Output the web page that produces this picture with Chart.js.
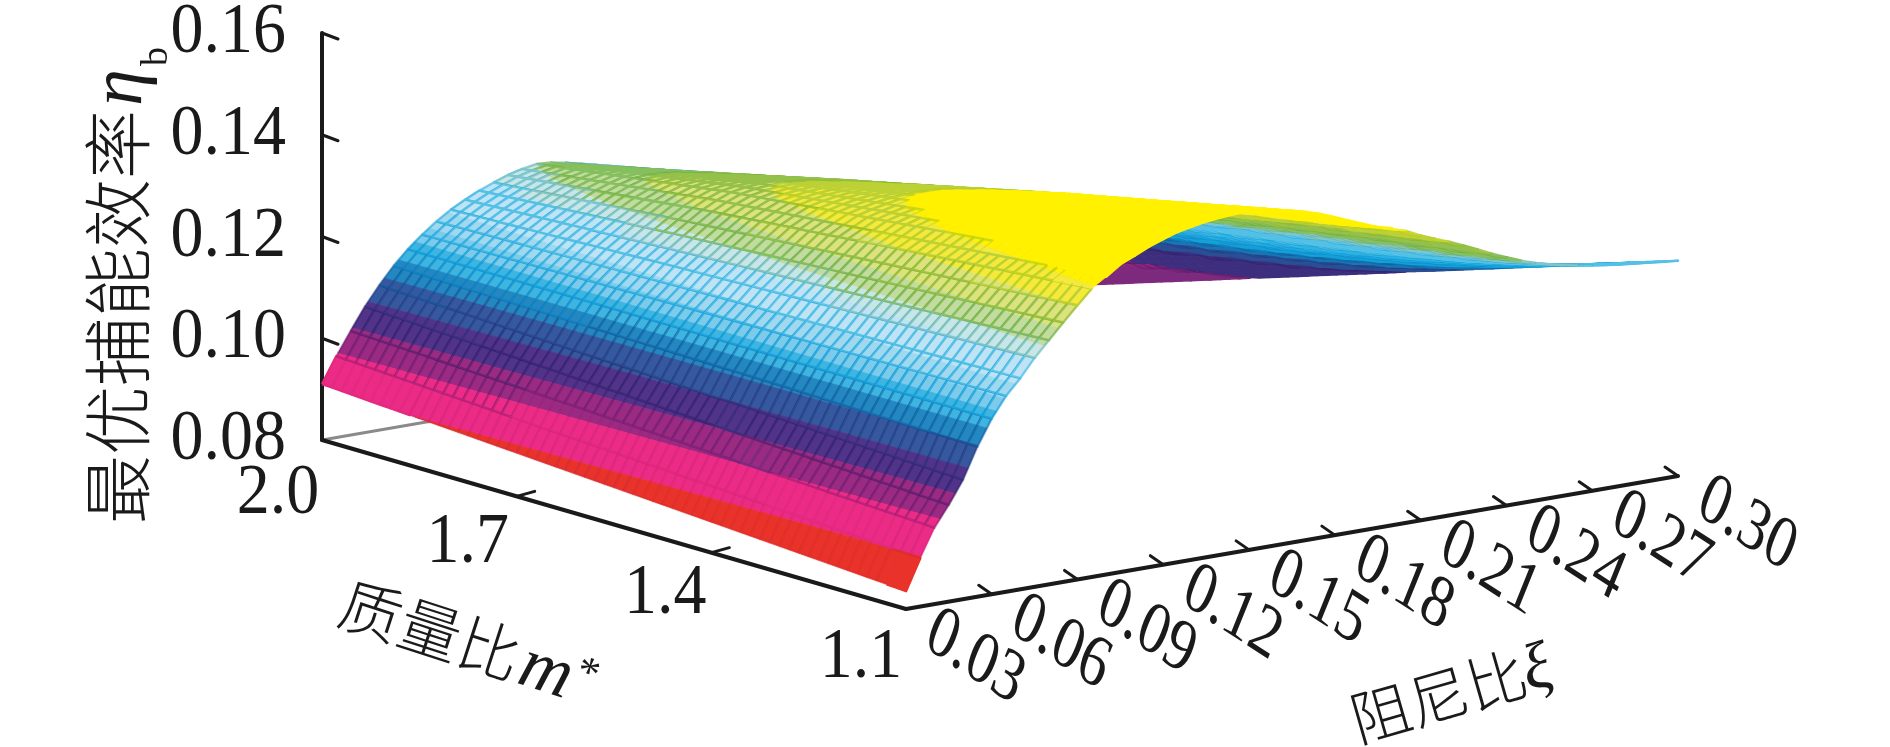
<!DOCTYPE html>
<html><head><meta charset="utf-8">
<style>html,body{margin:0;padding:0;background:#fff;overflow:hidden}canvas{display:block}</style>
<script src="https://cdn.jsdelivr.net/npm/chart.js@4/dist/chart.umd.min.js"></script>
</head><body><canvas id="c" width="1890" height="747"></canvas>
<script>
// ---------- values ----------
const damping = [.03,.035,.04,.045,.05,.055,.06,.065,.07,.075,.08,.085,.09,.095,.10,.105,.11,.115,.12,.125,.13,.135,.14,.145,.15,.155,.16,.165,.17,.175,.18,.185,.19,.195,.20,.205,.21,.215,.22,.225,.23,.235,.24,.245,.25,.255,.26,.265,.27,.275,.28,.285,.29,.295,.30];
const massRatio = [2.0,1.7,1.4,1.1];
const etaM20 = [.0910,.0960,.1005,.1048,.1085,.1118,.1146,.1170,.1191,.1209,.1224,.1237,.1248,.1258,.1265,.1270,.1268,.1263,.1256,.1249,.1241,.1234,.1226,.1218,.1210,.1203,.1195,.1187,.1179,.1170,.1161,.1152,.1143,.1133,.1123,.1113,.1102,.1091,.1079,.1067,.1054,.1041,.1027,.1012,.0997,.0981,.0965,.0948,.0930,.0912,.0894,.0880,.0867,.0855,.0845];
const etaM17 = [.0885,.0938,.0987,.1029,.1068,.1110,.1146,.1175,.1199,.1223,.1243,.1263,.1282,.1300,.1314,.1325,.1330,.1332,.1332,.1330,.1326,.1322,.1316,.1310,.1303,.1296,.1288,.1279,.1270,.1259,.1249,.1239,.1229,.1219,.1210,.1200,.1188,.1177,.1165,.1153,.1140,.1127,.1114,.1100,.1087,.1074,.1061,.1048,.1034,.1021,.1008,.0997,.0988,.0979,.0971];
const etaM14 = [.0860,.0917,.0968,.1009,.1052,.1103,.1145,.1180,.1207,.1236,.1261,.1286,.1311,.1335,.1350,.1365,.1374,.1382,.1389,.1393,.1396,.1397,.1396,.1394,.1389,.1384,.1377,.1369,.1360,.1350,.1339,.1326,.1316,.1305,.1297,.1287,.1274,.1263,.1252,.1240,.1227,.1214,.1201,.1189,.1177,.1167,.1157,.1148,.1139,.1130,.1121,.1115,.1108,.1102,.1097];
const etaM11 = [.0835,.0895,.0950,.0990,.1035,.1095,.1145,.1185,.1215,.1250,.1280,.1310,.1339,.1367,.1385,.1405,.1417,.1430,.1440,.1449,.1455,.1460,.1463,.1465,.1465,.1462,.1458,.1452,.1445,.1436,.1425,.1413,.1402,.1391,.1384,.1374,.1360,.1349,.1338,.1326,.1313,.1300,.1288,.1277,.1267,.1260,.1253,.1248,.1243,.1239,.1235,.1232,.1229,.1226,.1223];
const zTicks = [.08,.10,.12,.14,.16];
const mTicks = [2.0,1.7,1.4,1.1];
const dTicks = [.03,.06,.09,.12,.15,.18,.21,.24,.27,.30];
const zTickLabels = ['0.08','0.10','0.12','0.14','0.16'];
const mTickLabels = ['2.0','1.7','1.4','1.1'];
const dTickLabels = ['0.03','0.06','0.09','0.12','0.15','0.18','0.21','0.24','0.27','0.30'];
const bandTops = [.0898,.0965,.101,.1056,.1097,.1128,.1158,.118,.1205,.1248,.127,.13,.1336,.137,1];

// ---------- styles ----------
const cellColors = ['#E8322A','#EB2B85','#9A2A82','#51348A','#35589F','#2587C0','#3EB4E0','#7DCBEA','#A0D8F0','#BEE3F5','#C6E6E8','#C2DCA0','#DCE37E','#F5EA3A','#FFF100'];
const lineColors = ['#E8322A','#E32A80','#7E2A7E','#3D2F7E','#2A4F95','#1A76B2','#15A0D6','#1DAADF','#30B2E2','#55C0E6','#7CC6D0','#86BF5E','#95C14A','#BCD135','#FFF100'];
const lineGlaze = ['rgba(180,20,30,.1)','rgba(150,20,90,.12)','rgba(60,10,90,.25)','rgba(30,20,90,.35)','rgba(20,40,110,.3)','rgba(0,80,150,.4)','rgba(0,130,200,.5)','rgba(0,150,215,.55)','rgba(0,160,220,.5)','rgba(0,165,220,.45)','rgba(80,170,160,.5)','rgba(100,170,50,.6)','rgba(130,180,40,.65)','rgba(170,200,30,.6)','rgba(255,241,0,0)'];
const INK = '#1a1a1a';
const SUB = 20;    // grid cells per mass-ratio gap

// oblique view of the box
function project(d, m, z){
  const nd=(d-.03)/.27, nm=(2-m)/.9, nz=(z-.08)/.08;
  return {x:322+772*nd+584*nm, y:440-133*nd+169*nm-407*nz};
}
function depth(d,m,z){ return .6*(d-.03)/.27 - .8*(2-m)/.9 - .5*(z-.08)/.08; }

const rows=[etaM20,etaM17,etaM14,etaM11];
function cellZ(i,r,f){ return rows[r][i]+(rows[r+1][i]-rows[r][i])*f; }
function band(c){ let k=0; while(c>=bandTops[k]) k++; return k; }
// the far low corner reads a shade higher on the colour scale than its drawn height
function shade(d,z){ return z+Math.max(0,(d-.2)/.1)*Math.max(0,.105-z)*.6; }
function vertex(d,m,z){ return {d,m,z,c:shade(d,z)}; }
// keep the part of a cell on one side of a colour boundary
function clip(poly,level,keepAbove){
  const out=[];
  poly.forEach((a,i)=>{
    const b=poly[(i+1)%poly.length], ina=keepAbove?a.c>=level:a.c<=level, inb=keepAbove?b.c>=level:b.c<=level;
    if(ina) out.push(a);
    if(ina!==inb){ const f=(level-a.c)/(b.c-a.c); out.push({d:a.d+(b.d-a.d)*f,m:a.m+(b.m-a.m)*f,z:a.z+(b.z-a.z)*f,c:level}); }
  });
  return out;
}
const outline=v=>{const p=v.map(q=>project(q.d,q.m,q.z));p.push(p[0]);return p;};

const quads=[];
for(let r=0;r<massRatio.length-1;r++){
  const m0=massRatio[r], m1=massRatio[r+1];
  for(let s=0;s<SUB;s++){
    const fa=s/SUB, fb=(s+1)/SUB, ma=m0+(m1-m0)*fa, mb=m0+(m1-m0)*fb;
    for(let i=0;i<damping.length-1;i++){
      const d0=damping[i], d1=damping[i+1];
      const v=[vertex(d0,ma,cellZ(i,r,fa)),vertex(d0,mb,cellZ(i,r,fb)),vertex(d1,mb,cellZ(i+1,r,fb)),vertex(d1,ma,cellZ(i+1,r,fa))];
      const cs=v.map(q=>q.c), lo=band(Math.min(...cs)), hi=band(Math.max(...cs));
      const cm=(cs[0]+cs[1]+cs[2]+cs[3])/4, zm=(v[0].z+v[1].z+v[2].z+v[3].z)/4, k=band(cm), key=depth((d0+d1)/2,(ma+mb)/2,zm);
      if(lo===hi){ quads.push({key,data:outline(v),fill:cellColors[k],line:lineColors[k],w:2.4}); continue; }
      for(let b=lo;b<=hi;b++){
        let part=v;
        if(b>0) part=clip(part,bandTops[b-1],true);
        if(part.length&&b<hi) part=clip(part,bandTops[b],false);
        if(part.length>2) quads.push({key,data:outline(part),fill:cellColors[b],line:cellColors[b],w:.8});
      }
      quads.push({key:key-1e-7,data:outline(v),fill:null,line:lineGlaze[k],w:2.4});
    }
  }
}
quads.sort((a,b)=>a.key-b.key);
const datasets=quads.map(q=>({data:q.data,showLine:true,tension:0,pointRadius:0,fill:q.fill?'shape':false,
  backgroundColor:q.fill||'transparent',borderColor:q.line,borderWidth:q.w,borderJoinStyle:'round'}));

function seg(points,color,w){ return {data:points,showLine:true,tension:0,pointRadius:0,fill:false,borderColor:color,borderWidth:w,borderCapStyle:'round',borderJoinStyle:'miter'}; }
const O=project(.03,2,.08), C1=project(.03,1.1,.08), E=project(.30,1.1,.08), T=project(.03,2,.16), H=project(.07,2,.08);
datasets.push(seg([O,C1],INK,4), seg([C1,E],INK,4), seg([O,T],INK,4));
zTicks.slice(1).forEach(z=>{const p=project(.03,2,z);datasets.push(seg([p,{x:p.x+16,y:p.y+6}],INK,3));});
[1.7,1.4].forEach(m=>{const p=project(.03,m,.08);datasets.push(seg([p,{x:p.x+18,y:p.y-5}],INK,3));});
dTicks.slice(1).forEach(d=>{const p=project(d,1.1,.08);datasets.push(seg([p,{x:p.x-13,y:p.y-9}],INK,3));});
datasets.push(seg([O,H],'#8a8a8a',3));

const textPlugin={id:'labels',afterDatasetsDraw(chart){
  const {ctx,scales:{x,y}}=chart;
  const px=p=>({x:x.getPixelForValue(p.x),y:y.getPixelForValue(p.y)});
  const SERIF='"Liberation Serif"', CJK='"Noto Sans CJK SC"';
  ctx.save(); ctx.fillStyle=INK; ctx.textBaseline='alphabetic';
  const tall=(t,x0,y0)=>{ctx.save();ctx.translate(x0,y0);ctx.scale(1,1.1);ctx.fillText(t,0,0);ctx.restore();};
  // z labels
  ctx.font='66px '+SERIF; ctx.textAlign='right';
  zTicks.forEach((z,i)=>{const p=px(project(.03,2,z)); tall(zTickLabels[i],p.x-36,p.y+19);});
  // m labels
  ctx.textAlign='center';
  const mOff=[[-44,73],[-49,66],[-46,60],[-45,68]];
  mTicks.forEach((m,i)=>{const p=px(project(.03,m,.08)); tall(mTickLabels[i],p.x+mOff[i][0],p.y+mOff[i][1]);});
  // d labels, slanted
  const a=33*Math.PI/180, u=22*Math.PI/180, k=1.15;
  dTicks.forEach((d,i)=>{const p=px(project(d,1.1,.08));
    ctx.save(); ctx.transform(Math.cos(a),Math.sin(a),-Math.sin(u)*k,Math.cos(u)*k,p.x+69,p.y+49);
    ctx.textBaseline='middle'; ctx.font='62px '+SERIF; ctx.fillText(dTickLabels[i],0,0); ctx.restore();});
  // z title
  ctx.textAlign='left';
  ctx.save(); ctx.translate(144,524); ctx.rotate(-Math.PI/2); ctx.font='300 69px '+CJK; ctx.fillText('最优捕能效率',0,0); ctx.restore();
  ctx.save(); ctx.translate(141,106); ctx.rotate(-Math.PI/2); ctx.font='italic 74px '+SERIF; ctx.fillText('η',0,0); ctx.restore();
  ctx.save(); ctx.translate(167,66); ctx.rotate(-Math.PI/2); ctx.font='38px '+SERIF; ctx.fillText('b',0,0); ctx.restore();
  // m title
  ctx.save(); ctx.translate(342,601); ctx.rotate(18*Math.PI/180); ctx.font='300 62px '+CJK; ctx.textBaseline='middle'; ctx.fillText('质量比',0,0);
  ctx.textBaseline='alphabetic'; ctx.font='italic 72px '+SERIF; ctx.fillText('m',190,24); ctx.font='44px '+SERIF; ctx.fillText('*',245,6); ctx.restore();
  // d title
  ctx.save(); ctx.translate(1352,721); ctx.rotate(-16*Math.PI/180); ctx.font='300 60px '+CJK; ctx.textBaseline='middle'; ctx.fillText('阻尼比',0,0);
  ctx.textBaseline='alphabetic'; ctx.font='italic 66px '+SERIF; ctx.fillText('ξ',178,20); ctx.restore();
  ctx.restore();
}};

new Chart(document.getElementById('c'),{type:'scatter',data:{datasets},plugins:[textPlugin],options:{
  responsive:false,animation:false,events:[],
  layout:{padding:0},
  scales:{x:{type:'linear',min:0,max:1890,display:false},y:{type:'linear',min:0,max:747,reverse:true,display:false}},
  plugins:{legend:{display:false},tooltip:{enabled:false},filler:{drawTime:'beforeDatasetDraw'}}
}});
</script></body></html>
